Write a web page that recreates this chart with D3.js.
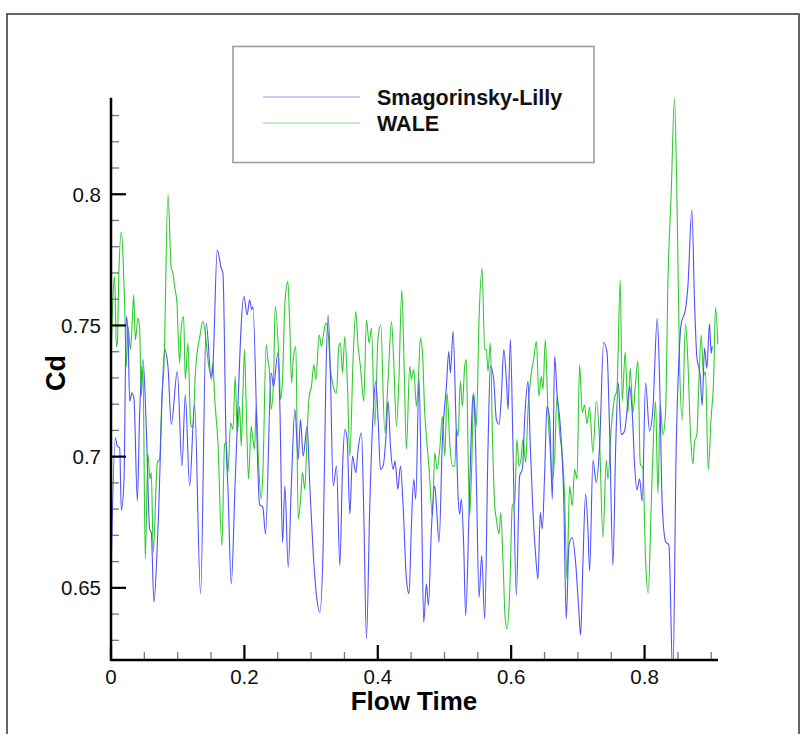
<!DOCTYPE html>
<html><head><meta charset="utf-8">
<script src="https://cdn.jsdelivr.net/npm/d3@7"></script>
<style>
html,body{margin:0;padding:0;background:#fff;}
svg{display:block;font-family:"Liberation Sans",Arial,Helvetica,sans-serif;}
</style></head>
<body><svg id="chart" width="805" height="734"></svg>
<script>
// ---- data ----
const seriesNames = ["Smagorinsky-Lilly", "WALE"];
const smagT = [0,0.0065,0.0095,0.013,0.0155,0.0195,0.023,0.0255,0.028,0.0315,0.0345,0.0395,0.043,0.048,0.053,0.058,0.0604,0.0644,0.0704,0.0804,0.0854,0.0904,0.0994,0.1064,0.1114,0.1179,0.1253,0.1343,0.1428,0.1503,0.1528,0.1593,0.1653,0.1678,0.1728,0.1753,0.1803,0.1863,0.1993,0.2042,0.2077,0.2112,0.2127,0.2227,0.2277,0.2317,0.2402,0.2437,0.2502,0.2532,0.2572,0.2607,0.2657,0.2707,0.2757,0.2807,0.2841,0.2881,0.2941,0.2981,0.3031,0.3081,0.3131,0.3181,0.3221,0.3256,0.3291,0.3331,0.3381,0.3431,0.3471,0.3506,0.3541,0.3581,0.3621,0.367,0.3705,0.3755,0.379,0.383,0.388,0.393,0.397,0.4005,0.404,0.408,0.412,0.4155,0.419,0.423,0.426,0.43,0.434,0.438,0.4429,0.4469,0.4504,0.4539,0.4569,0.4619,0.4654,0.4689,0.4729,0.4759,0.4804,0.4854,0.4879,0.4919,0.4969,0.5029,0.5064,0.5089,0.5129,0.5169,0.5204,0.5229,0.5253,0.5288,0.5318,0.5368,0.5403,0.5428,0.5453,0.5478,0.5518,0.5558,0.5603,0.5653,0.5688,0.5738,0.5778,0.5818,0.5853,0.5888,0.5928,0.5953,0.5988,0.6027,0.6077,0.6127,0.6167,0.6207,0.6252,0.6287,0.6327,0.6367,0.6402,0.6437,0.6467,0.6502,0.6537,0.6577,0.6617,0.6652,0.6687,0.6737,0.6787,0.6826,0.6866,0.6916,0.6966,0.7016,0.7041,0.7076,0.7116,0.7151,0.7176,0.7226,0.7276,0.7326,0.7386,0.7436,0.7476,0.7526,0.7566,0.7606,0.765,0.77,0.775,0.7775,0.7815,0.785,0.7885,0.7925,0.7965,0.8015,0.8075,0.8125,0.819,0.8225,0.8265,0.8315,0.8365,0.8424,0.8474,0.8514,0.8549,0.8614,0.8649,0.8709,0.8749,0.8784,0.8834,0.8864,0.8899,0.8934,0.8974,0.8999,0.9014];
const smagCd = [0.654,0.7072,0.704,0.7034,0.6794,0.6914,0.7534,0.7471,0.7211,0.7243,0.7218,0.6831,0.7167,0.737,0.7104,0.6724,0.6711,0.6445,0.6724,0.7408,0.7344,0.7123,0.7325,0.6964,0.7237,0.6888,0.7199,0.6477,0.7509,0.7294,0.7344,0.7787,0.7718,0.7699,0.7028,0.6882,0.6515,0.6914,0.761,0.754,0.7597,0.7559,0.7572,0.6819,0.6806,0.6705,0.7319,0.7268,0.7395,0.7192,0.6673,0.6888,0.6578,0.6914,0.718,0.699,0.7142,0.7002,0.7116,0.6888,0.6635,0.6471,0.6407,0.6661,0.7294,0.754,0.7294,0.6888,0.6964,0.6585,0.6952,0.7104,0.7066,0.6781,0.7002,0.6939,0.7028,0.7091,0.6787,0.6306,0.6813,0.7167,0.7287,0.7142,0.6952,0.6964,0.7066,0.7211,0.704,0.6952,0.6983,0.6876,0.6964,0.6813,0.6534,0.6477,0.6737,0.6914,0.6838,0.7294,0.6863,0.6369,0.6515,0.6433,0.6724,0.6888,0.6813,0.6673,0.7066,0.7268,0.7401,0.7319,0.7477,0.7167,0.685,0.6781,0.6838,0.6661,0.6395,0.6787,0.7104,0.7237,0.7167,0.6914,0.6464,0.6623,0.6382,0.704,0.7344,0.7294,0.7142,0.7123,0.723,0.7408,0.7294,0.718,0.7446,0.704,0.6471,0.6926,0.6952,0.7167,0.7287,0.704,0.6787,0.6623,0.6534,0.6787,0.6724,0.6939,0.7192,0.7142,0.6838,0.7382,0.7243,0.7116,0.685,0.6382,0.6661,0.6692,0.6597,0.6407,0.6319,0.6597,0.6857,0.6724,0.6564,0.6986,0.6902,0.7042,0.7435,0.74,0.7098,0.6585,0.7028,0.7281,0.7084,0.7098,0.7211,0.7267,0.7168,0.6971,0.6873,0.6916,0.6831,0.7281,0.7098,0.7182,0.7527,0.7295,0.6817,0.6677,0.6663,0.615,0.7028,0.7365,0.7506,0.7562,0.7646,0.7941,0.759,0.7379,0.7309,0.7196,0.7414,0.7337,0.7506,0.7393,0.7421];
const waleT = [0,0.003,0.0055,0.008,0.0095,0.0115,0.0155,0.018,0.0205,0.023,0.0255,0.029,0.0315,0.034,0.0365,0.0404,0.0429,0.0454,0.0479,0.0514,0.0554,0.0584,0.0604,0.0634,0.0694,0.0729,0.0764,0.0794,0.0854,0.0904,0.0929,0.0954,0.0989,0.1004,0.1029,0.1054,0.1089,0.1114,0.1154,0.1194,0.1228,0.1263,0.1303,0.1328,0.1378,0.1413,0.1453,0.1503,0.1528,0.1553,0.1603,0.1663,0.1703,0.1728,0.1753,0.1793,0.1828,0.1863,0.1893,0.1928,0.1953,0.1978,0.2002,0.2027,0.2062,0.2102,0.2127,0.2152,0.2177,0.2212,0.2252,0.2277,0.2327,0.2352,0.2377,0.2402,0.2437,0.2462,0.2522,0.2542,0.2572,0.2607,0.2652,0.2682,0.2707,0.2732,0.2772,0.2806,0.2841,0.2871,0.2906,0.2941,0.2971,0.3006,0.3041,0.3071,0.3121,0.3156,0.3181,0.3221,0.3256,0.3291,0.3331,0.3381,0.3416,0.3441,0.3471,0.3506,0.3546,0.3581,0.3631,0.367,0.3705,0.374,0.379,0.383,0.387,0.3905,0.3955,0.4005,0.4045,0.4105,0.4155,0.4205,0.424,0.428,0.4315,0.436,0.4395,0.4429,0.4479,0.4504,0.4539,0.4579,0.4604,0.4639,0.4669,0.4704,0.4729,0.4769,0.4819,0.4854,0.4889,0.4929,0.4969,0.5004,0.5039,0.5079,0.5119,0.5154,0.5179,0.5204,0.5238,0.5268,0.5303,0.5328,0.5353,0.5378,0.5408,0.5438,0.5478,0.5518,0.5563,0.5603,0.5628,0.5653,0.5688,0.5718,0.5753,0.5778,0.5818,0.5843,0.5878,0.5908,0.5938,0.5978,0.6017,0.6052,0.6087,0.6117,0.6147,0.6177,0.6217,0.6252,0.6302,0.6337,0.6377,0.6417,0.6452,0.6477,0.6512,0.6552,0.6587,0.6617,0.6652,0.6687,0.6727,0.6767,0.6801,0.6836,0.6876,0.6916,0.6951,0.6986,0.7026,0.7066,0.7101,0.7136,0.7176,0.7226,0.7276,0.7326,0.7376,0.7426,0.7451,0.7501,0.7551,0.7585,0.7635,0.7665,0.771,0.775,0.7785,0.7825,0.7865,0.79,0.7935,0.7975,0.8015,0.8055,0.81,0.8135,0.8165,0.82,0.8235,0.8275,0.8315,0.835,0.84,0.8449,0.8484,0.8524,0.8564,0.8614,0.8649,0.8689,0.8724,0.8749,0.8784,0.8814,0.8849,0.8884,0.8914,0.8954,0.8999,0.9034,0.9064,0.9099];
const waleCd = [0.7363,0.761,0.7686,0.742,0.7433,0.7673,0.7857,0.7762,0.7572,0.7344,0.7496,0.7408,0.7496,0.7616,0.7445,0.7528,0.749,0.723,0.7344,0.661,0.7009,0.6914,0.6939,0.6635,0.6977,0.699,0.723,0.7344,0.8,0.7718,0.7699,0.7648,0.7585,0.7483,0.7357,0.7496,0.7534,0.7294,0.7433,0.7123,0.711,0.7306,0.742,0.7452,0.7515,0.7471,0.737,0.7306,0.7357,0.723,0.7053,0.6661,0.7047,0.7053,0.6939,0.7129,0.7104,0.7306,0.7091,0.7192,0.704,0.7243,0.7408,0.7192,0.6914,0.7116,0.7066,0.7028,0.7192,0.6977,0.6838,0.6939,0.7427,0.737,0.7319,0.718,0.7294,0.7572,0.7344,0.7218,0.7294,0.7585,0.7667,0.7483,0.7281,0.737,0.742,0.6762,0.6831,0.6939,0.6876,0.7091,0.723,0.7268,0.7351,0.7294,0.7464,0.742,0.7458,0.7509,0.7471,0.7332,0.7268,0.7243,0.742,0.7433,0.7319,0.7458,0.7268,0.7002,0.7382,0.7553,0.742,0.7344,0.7211,0.7521,0.7433,0.749,0.7116,0.7458,0.7502,0.7091,0.7294,0.7515,0.7357,0.7116,0.7281,0.7635,0.7344,0.7028,0.7344,0.7294,0.7332,0.7192,0.7268,0.7452,0.7401,0.7167,0.7078,0.6952,0.6775,0.7015,0.6952,0.7028,0.7154,0.7002,0.7243,0.7053,0.6964,0.6964,0.7104,0.7078,0.7287,0.7192,0.7344,0.737,0.7028,0.6775,0.6964,0.7243,0.7116,0.7521,0.7718,0.7408,0.7408,0.7325,0.7433,0.7091,0.6813,0.6762,0.6705,0.6787,0.6597,0.6395,0.6344,0.6483,0.6813,0.6825,0.7066,0.6964,0.699,0.7066,0.6977,0.718,0.7319,0.737,0.7439,0.723,0.7306,0.7256,0.7446,0.7167,0.7015,0.6914,0.7002,0.723,0.7091,0.7002,0.685,0.6534,0.6888,0.6813,0.6952,0.6914,0.7351,0.7168,0.7197,0.7126,0.7189,0.7014,0.7211,0.7056,0.6691,0.6986,0.6915,0.7112,0.7225,0.7253,0.7674,0.7211,0.74,0.7168,0.7337,0.7168,0.7281,0.7365,0.6972,0.6958,0.6606,0.648,0.6817,0.7084,0.7211,0.6859,0.7197,0.7084,0.7168,0.766,0.8011,0.8366,0.8011,0.7365,0.714,0.7506,0.7365,0.7084,0.6972,0.7056,0.7084,0.7281,0.7463,0.7309,0.7323,0.695,0.7154,0.7281,0.7569,0.7428];
const xMajorTicks = [0, 0.2, 0.4, 0.6, 0.8];
const xTickLabels = ["0", "0.2", "0.4", "0.6", "0.8"];
const xMinorTicks = [0.05,0.1,0.15,0.25,0.3,0.35,0.45,0.5,0.55,0.65,0.7,0.75,0.85,0.9];
const yMajorTicks = [0.65, 0.7, 0.75, 0.8];
const yTickLabels = ["0.65", "0.7", "0.75", "0.8"];
const yMinorTicks = [0.63,0.64,0.66,0.67,0.68,0.69,0.71,0.72,0.73,0.74,0.76,0.77,0.78,0.79,0.81,0.82,0.83];
const xDomain = [0, 0.9101];
const yDomain = [0.6225, 0.8368];

// ---- layout ----
const svg = d3.select("#chart");
const L = 111, R = 718, T = 97.7, B = 660;
const x = d3.scaleLinear().domain(xDomain).range([L, R]);
const y = d3.scaleLinear().domain(yDomain).range([B, T]);

// outer frame
svg.append("rect").attr("x", 7).attr("y", 14).attr("width", 792).attr("height", 740)
  .attr("fill", "none").attr("stroke", "#333").attr("stroke-width", 1.5);

svg.append("clipPath").attr("id", "clip").append("rect")
  .attr("x", L).attr("y", T - 2).attr("width", R - L + 2).attr("height", B - T + 2);

const colors = ["#5050ff", "#2ecc2e"];
const line = d3.line().curve(d3.curveMonotoneX);
const smag = smagT.map((t, i) => [x(t), y(smagCd[i])]);
const wale = waleT.map((t, i) => [x(t), y(waleCd[i])]);
const g = svg.append("g").attr("clip-path", "url(#clip)");
g.append("path").attr("d", line(wale)).attr("fill", "none").attr("stroke", colors[1]).attr("stroke-width", 1.1);
g.append("path").attr("d", line(smag)).attr("fill", "none").attr("stroke", colors[0]).attr("stroke-width", 1.1);

// axes
const ax = svg.append("g");
ax.selectAll(".xmin").data(xMinorTicks).join("line")
  .attr("x1", d => x(d)).attr("x2", d => x(d)).attr("y1", B).attr("y2", B - 8)
  .attr("stroke", "#777").attr("stroke-width", 1.3);
ax.selectAll(".xmaj").data(xMajorTicks).join("line")
  .attr("x1", d => x(d)).attr("x2", d => x(d)).attr("y1", B).attr("y2", B - 15)
  .attr("stroke", "#000").attr("stroke-width", 2.2);
ax.selectAll(".ymin").data(yMinorTicks).join("line")
  .attr("x1", L).attr("x2", L + 8).attr("y1", d => y(d)).attr("y2", d => y(d))
  .attr("stroke", "#777").attr("stroke-width", 1.3);
ax.selectAll(".ymaj").data(yMajorTicks).join("line")
  .attr("x1", L).attr("x2", L + 15).attr("y1", d => y(d)).attr("y2", d => y(d))
  .attr("stroke", "#000").attr("stroke-width", 2.2);
ax.append("line").attr("x1", L).attr("x2", R).attr("y1", B).attr("y2", B).attr("stroke", "#000").attr("stroke-width", 2.5);
ax.append("line").attr("x1", L).attr("x2", L).attr("y1", T).attr("y2", B + 1).attr("stroke", "#000").attr("stroke-width", 2.5);

ax.selectAll(".xl").data(xMajorTicks).join("text")
  .attr("x", d => x(d)).attr("y", 684).attr("text-anchor", "middle")
  .attr("font-size", 20.5).attr("fill", "#111").text((d, i) => xTickLabels[i]);
ax.selectAll(".yl").data(yMajorTicks).join("text")
  .attr("x", 101).attr("y", d => y(d) + 7.3).attr("text-anchor", "end")
  .attr("font-size", 20.5).attr("fill", "#111").text((d, i) => yTickLabels[i]);

svg.append("text").attr("x", 414).attr("y", 710).attr("text-anchor", "middle")
  .attr("font-size", 26).attr("font-weight", "bold").text("Flow Time");
svg.append("text").attr("transform", "translate(65,373) rotate(-90)").attr("text-anchor", "middle")
  .attr("font-size", 27).attr("font-weight", "bold").text("Cd");

// legend
const lg = svg.append("g");
lg.append("rect").attr("x", 233).attr("y", 46.5).attr("width", 361).attr("height", 116)
  .attr("fill", "#fff").attr("stroke", "#999").attr("stroke-width", 1.5);
const legY = [97, 123];
seriesNames.forEach((n, i) => {
  lg.append("line").attr("x1", 263).attr("x2", 360).attr("y1", legY[i]).attr("y2", legY[i])
    .attr("stroke", colors[i]).attr("stroke-width", 1.1).attr("opacity", 0.6);
  lg.append("text").attr("x", 377).attr("y", legY[i] + 7.5).attr("font-size", 21.5)
    .attr("font-weight", "bold").attr("fill", "#111").text(n);
});
</script></body></html>
